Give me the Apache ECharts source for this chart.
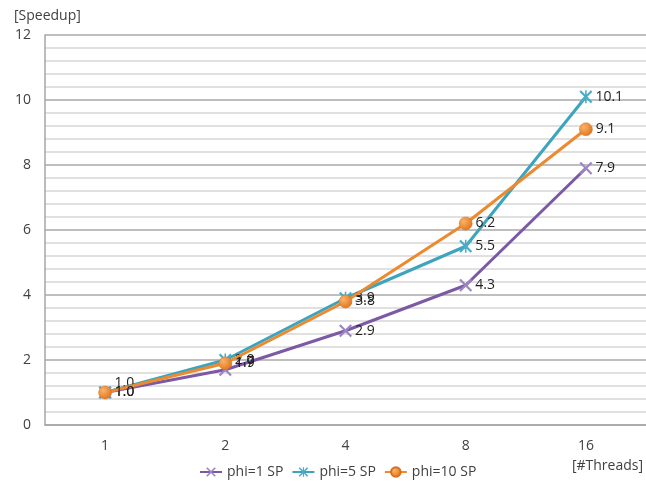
<!DOCTYPE html>
<html>
<head>
<meta charset="utf-8">
<script src="https://cdn.jsdelivr.net/npm/echarts@6/dist/echarts.min.js"></script>
<style>
  html, body { margin: 0; padding: 0; background: #ffffff; }
  #chart { width: 646px; height: 481px; }
</style>
</head>
<body>
<div id="chart"></div>
<script>
// Thread counts on the x axis
const threads = ['1', '2', '4', '8', '16'];

// Measured speedup per configuration
const phi1SP = [1.0, 1.7, 2.9, 4.3, 7.9];
const phi5SP = [1.0, 2.0, 3.9, 5.5, 10.1];
const phi10SP = [1.0, 1.9, 3.8, 6.2, 9.1];

const seriesNames = ['phi=1 SP', 'phi=5 SP', 'phi=10 SP'];

// Y axis ticks
const yMin = 0, yMax = 12, yStep = 2;

const FONT = '"Open Sans", "Liberation Sans", sans-serif';
const TEXT = '#404040';

// Marker shapes: a cross and an asterisk
const crossPath = 'path://M0,1.2 L1.2,0 L10,8.8 L8.8,10 Z M8.8,0 L10,1.2 L1.2,10 L0,8.8 Z';
const starPath = 'path://M0,1.2 L1.2,0 L10,8.8 L8.8,10 Z M8.8,0 L10,1.2 L1.2,10 L0,8.8 Z M4.4,0 L5.6,0 L5.6,10 L4.4,10 Z';

const labelStyle = {
  show: true,
  position: 'right',
  distance: 3,
  color: '#1f1f1f',
  fontFamily: FONT,
  fontSize: 14,
  formatter: p => p.value.toFixed(1)
};

const chart = echarts.init(document.getElementById('chart'), null, { renderer: 'canvas' });

chart.setOption({
  animation: false,
  backgroundColor: '#ffffff',
  grid: { left: 45, top: 35, width: 606, height: 390, containLabel: false },
  xAxis: {
    type: 'category',
    data: threads,
    boundaryGap: true,
    axisLine: { show: true, lineStyle: { color: '#a6a6a6', width: 1.5 } },
    axisTick: { show: false },
    axisLabel: { color: TEXT, fontFamily: FONT, fontSize: 14, margin: 14 },
    splitLine: { show: false }
  },
  yAxis: {
    type: 'value',
    min: yMin,
    max: yMax,
    interval: yStep,
    axisLine: { show: true, lineStyle: { color: '#a6a6a6', width: 1.5 } },
    axisTick: { show: false },
    axisLabel: { color: TEXT, fontFamily: FONT, fontSize: 14, margin: 14 },
    splitLine: { show: true, lineStyle: { color: '#a9a9a9', width: 1.5 } },
    minorTick: { show: false, splitNumber: 5 },
    minorSplitLine: { show: true, lineStyle: { color: '#d6d6d6', width: 1.5 } }
  },
  legend: {
    data: seriesNames,
    left: 199,
    top: 465,
    padding: 0,
    itemWidth: 22,
    itemHeight: 12,
    itemGap: 8,
    textStyle: { color: TEXT, fontFamily: FONT, fontSize: 14 }
  },
  graphic: [
    {
      type: 'text', left: 14, top: 9,
      style: { text: '[Speedup]', fill: TEXT, font: '14px ' + FONT }
    },
    {
      type: 'text', right: 3, top: 459,
      style: { text: '[#Threads]', fill: TEXT, font: '14px ' + FONT }
    }
  ],
  series: [
    {
      name: seriesNames[0],
      type: 'line',
      data: phi1SP,
      symbol: crossPath,
      symbolSize: 13,
      showAllSymbol: true,
      lineStyle: { color: '#7c59a4', width: 3 },
      itemStyle: { color: '#9c86c2' },
      label: Object.assign({}, labelStyle),
      labelLayout: p => (p.dataIndex === 1 ? { dy: -8 } : {}),
      z: 2
    },
    {
      name: seriesNames[1],
      type: 'line',
      data: phi5SP,
      symbol: starPath,
      symbolSize: 13,
      lineStyle: { color: '#3ea4bd', width: 3 },
      itemStyle: { color: '#4bacc6' },
      label: Object.assign({}, labelStyle),
      labelLayout: p => (p.dataIndex === 0 ? { dy: -9 } : {}),
      z: 3
    },
    {
      name: seriesNames[2],
      type: 'line',
      data: phi10SP,
      symbol: 'circle',
      symbolSize: 13,
      lineStyle: { color: '#ec8a30', width: 3 },
      itemStyle: {
        color: new echarts.graphic.RadialGradient(0.35, 0.35, 0.7, [
          { offset: 0, color: '#fbb36a' },
          { offset: 1, color: '#e0741a' }
        ]),
        borderColor: '#d9701c',
        borderWidth: 0.5
      },
      label: Object.assign({}, labelStyle),
      z: 4
    }
  ]
});
</script>
</body>
</html>
